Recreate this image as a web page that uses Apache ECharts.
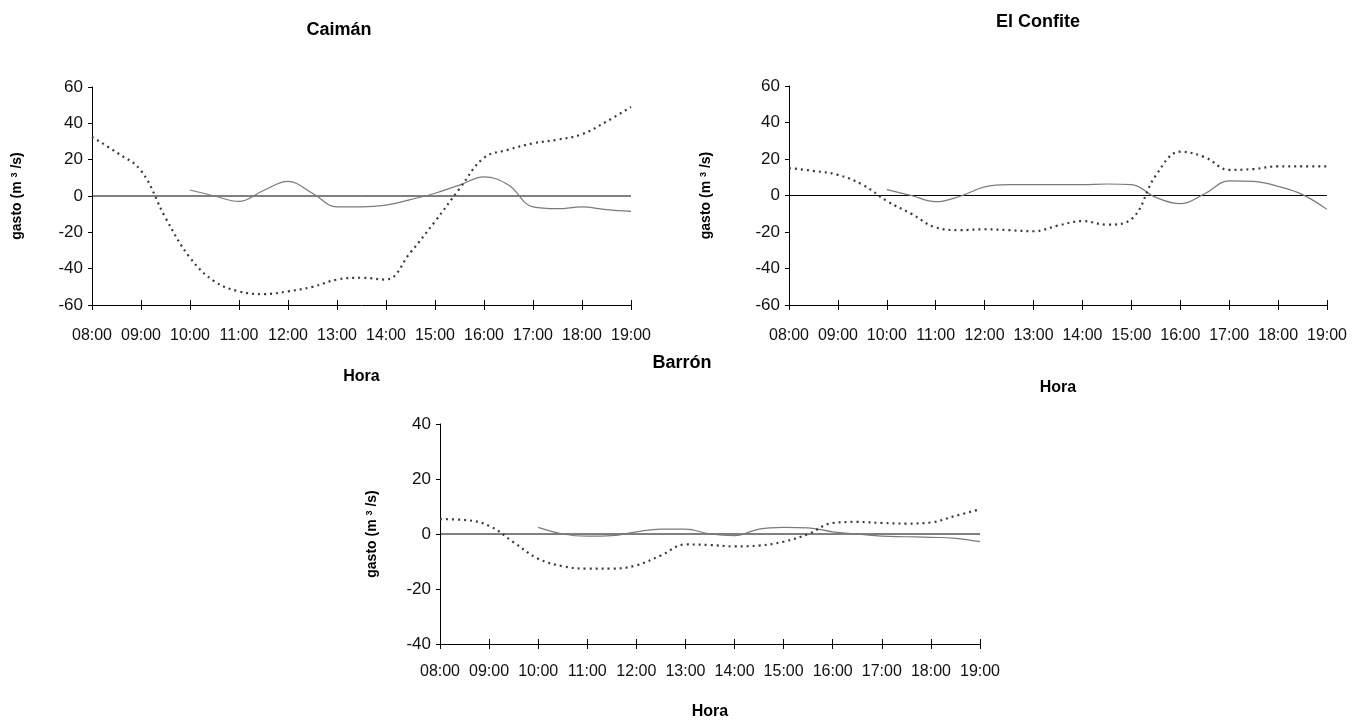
<!DOCTYPE html>
<html><head><meta charset="utf-8">
<script src="https://cdn.jsdelivr.net/npm/echarts@6/dist/echarts.min.js"></script>
<style>html,body{margin:0;padding:0;background:#fff}#c{width:1357px;height:721px}</style>
</head><body><div id="c"></div>
<script>
const hourLabels = ['08:00','09:00','10:00','11:00','12:00','13:00','14:00','15:00','16:00','17:00','18:00','19:00'];
const titles = ['Caimán','El Confite','Barrón'];
const xName = 'Hora';
const timesA = [8,8.5,9,9.5,10,10.5,11,11.5,12,12.5,13,13.5,14,14.5,15,15.5,16,16.5,17,17.5,18,18.5,19];
const timesB = [10,10.5,11,11.5,12,12.5,13,13.5,14,14.5,15,15.5,16,16.5,17,17.5,18,18.5,19];
const timesZero = [8,19];
const zeroVals = [0,0];
const caimanA = [32.5,24,14,-12,-34,-47,-52.5,-54,-52.5,-50,-46,-45,-46,-31,-14,4,21,25.5,29,31,34,41,49];
const caimanB = [3.3,0,-3,3,8,1.5,-6,-6,-5,-2,1.5,6,10.5,6,-6,-7,-6,-7.5,-8.5];
const confiteA = [15,13.5,11.3,6,-3,-10,-17.5,-19,-18.5,-19,-19.6,-16.5,-14,-16,-13,11,24,21,14,14.5,16,16,16];
const confiteB = [3.2,0,-3.4,-0.4,4.7,6,6,6,6,6.3,6,-1,-4.5,1,8,7.7,5,0.5,-7.6];
const barronA = [5.4,5.1,3,-3,-9,-11.7,-12.6,-12.6,-11.4,-7.8,-3.8,-4,-4.5,-4.2,-2.8,0,4,4.4,4,3.8,4.2,6.6,9];
const barronB = [2.4,0,-0.8,-0.6,0.8,1.8,1.8,0,-0.6,1.8,2.4,2.2,0.8,0,-0.8,-1,-1.2,-1.6,-2.8];
const yRanges = [[-60,60,20],[-60,60,20],[-40,40,20]];

const pair = (t,v)=>t.map((x,i)=>[x,v[i]]);
const font = 'Liberation Sans, Arial, sans-serif';
const grids = [
  {left:92, top:87, width:539, height:218},
  {left:789, top:86, width:538, height:219},
  {left:440, top:424, width:540, height:223}
];
const titlePos = [[334,27],[1033,19],[677,360]];
const yNameGap = [68, 76, 61];
const xNameGap = [64, 75, 60];
const labelMargin = [23, 23, 20];
const dataSets = [[caimanA,caimanB],[confiteA,confiteB],[barronA,barronB]];

const xAxis = [], yAxis = [], series = [], title = [];
grids.forEach((g,i)=>{
  title.push({text:titles[i], left:titlePos[i][0], top:titlePos[i][1]-11, textAlign:'center',
    textStyle:{fontFamily:font, fontSize:18, fontWeight:'bold', color:'#000'}});
  xAxis.push({gridIndex:i, type:'value', min:8, max:19, interval:1, position:'bottom',
    name:xName, nameLocation:'middle', nameGap:xNameGap[i],
    nameTextStyle:{fontFamily:font, fontSize:16, fontWeight:'bold', color:'#000'},
    axisLine:{onZero:false, lineStyle:{color:'#000', width:1}},
    axisTick:{inside:false, length:5, lineStyle:{color:'#000'}},
    axisLabel:{margin:labelMargin[i], showMinLabel:true, showMaxLabel:true, hideOverlap:false,
      fontFamily:font, fontSize:16, color:'#111', formatter:v=>hourLabels[Math.round(v-8)]},
    splitLine:{show:false}});
  xAxis.push({gridIndex:i, type:'value', min:8, max:19, interval:1, position:'bottom',
    axisLine:{show:false, onZero:false}, axisTick:{inside:true, length:5, lineStyle:{color:'#000'}},
    axisLabel:{show:false}, splitLine:{show:false}});
  const r = yRanges[i];
  yAxis.push({gridIndex:i, type:'value', min:r[0], max:r[1], interval:r[2],
    name:'gasto (m {s|3} /s)', nameLocation:'middle', nameGap:yNameGap[i], nameRotate:90,
    nameTextStyle:{fontFamily:font, fontSize:14, fontWeight:'bold', color:'#000', rich:{s:{fontSize:9, fontWeight:'bold', fontFamily:font, verticalAlign:'top'}}},
    axisLine:{show:true, lineStyle:{color:'#000', width:1}},
    axisTick:{show:true, length:4, lineStyle:{color:'#000'}},
    axisLabel:{fontFamily:font, fontSize:17, color:'#111', margin:9},
    splitLine:{show:false}});
  series.push({type:'line', xAxisIndex:2*i, yAxisIndex:i, data:pair(timesZero,zeroVals), symbol:'none',
    lineStyle:{color:'#000', width:1}, silent:true, z:1});
  series.push({type:'line', xAxisIndex:2*i, yAxisIndex:i, data:pair(timesB,dataSets[i][1]), symbol:'none', smooth:0.4,
    lineStyle:{color:'#7a7a7a', width:1.2}, z:2});
  series.push({type:'line', xAxisIndex:2*i, yAxisIndex:i, data:pair(timesA,dataSets[i][0]), symbol:'none', smooth:0.4,
    lineStyle:{color:'#3a3a3a', width:2.2, type:[2,4]}, z:3});
});

const chart = echarts.init(document.getElementById('c'), null, {renderer:'canvas'});
chart.setOption({backgroundColor:'#fff', animation:false, title, grid:grids, xAxis, yAxis, series});
</script></body></html>
